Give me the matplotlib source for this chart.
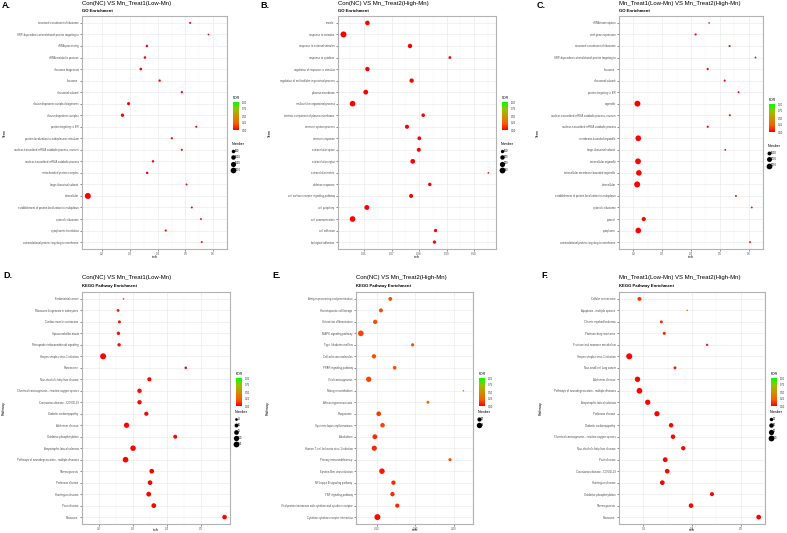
import matplotlib
matplotlib.use('Agg')
import matplotlib.pyplot as plt
import numpy as np
from matplotlib.colors import LinearSegmentedColormap, Normalize
from matplotlib.lines import Line2D
import matplotlib.cm as cm

plt.rcParams['font.family'] = ['Liberation Sans', 'DejaVu Sans']

# ---------------- data ----------------
A_terms = ["structural constituent of ribosome",
           "SRP-dependent cotranslational protein targeting to",
           "rRNA processing", "rRNA metabolic process", "ribosome biogenesis",
           "ribosome", "ribosomal subunit", "ribonucleoprotein complex biogenesis",
           "ribonucleoprotein complex", "protein targeting to ER",
           "protein localization to endoplasmic reticulum",
           "nuclear-transcribed mRNA catabolic process, nonsen",
           "nuclear-transcribed mRNA catabolic process",
           "mitochondrial protein complex", "large ribosomal subunit", "intracellular",
           "establishment of protein localization to endoplasm",
           "cytosolic ribosome", "cytoplasmic translation",
           "cotranslational protein targeting to membrane"]
A_rich = [0.517, 0.583, 0.361, 0.354, 0.339, 0.407, 0.487, 0.295, 0.273, 0.539,
          0.451, 0.487, 0.383, 0.362, 0.504, 0.148, 0.523, 0.556, 0.429, 0.559]
A_number = [80, 60, 150, 160, 180, 130, 110, 330, 420, 80,
            100, 90, 140, 150, 70, 2300, 80, 70, 90, 75]
A_fdr = [0.0] * 20

B_terms = ["vesicle", "response to stimulus", "response to external stimulus",
           "response to cytokine", "regulation of response to stimulus",
           "regulation of multicellular organismal process", "plasma membrane",
           "multicellular organismal process", "intrinsic component of plasma membrane",
           "immune system process", "immune response", "extracellular space",
           "extracellular region", "extracellular matrix", "defense response",
           "cell surface receptor signaling pathway", "cell periphery",
           "cell communication", "cell adhesion", "biological adhesion"]
B_rich = [0.0612, 0.0525, 0.0767, 0.0912, 0.0612, 0.0773, 0.0606, 0.0558, 0.0815,
          0.0756, 0.0801, 0.0799, 0.0777, 0.1052, 0.0839, 0.0771, 0.0610, 0.0558,
          0.0860, 0.0856]
B_number = [220, 430, 200, 70, 200, 190, 250, 370, 120, 170, 140, 160, 240, 40,
            110, 160, 260, 370, 100, 100]
B_fdr = [0.0] * 20

C_terms = ["rRNA transcription", "viral gene expression",
           "structural constituent of ribosome",
           "SRP-dependent cotranslational protein targeting to",
           "ribosome", "ribosomal subunit", "protein targeting to ER", "organelle",
           "nuclear-transcribed mRNA catabolic process, nonsen",
           "nuclear-transcribed mRNA catabolic process",
           "membrane-bounded organelle", "large ribosomal subunit",
           "intracellular organelle", "intracellular membrane-bounded organelle",
           "intracellular", "establishment of protein localization to endoplasm",
           "cytosolic ribosome", "cytosol", "cytoplasm",
           "cotranslational protein targeting to membrane"]
C_rich = [0.463, 0.416, 0.534, 0.624, 0.458, 0.517, 0.565, 0.214, 0.535, 0.458,
          0.217, 0.519, 0.216, 0.219, 0.213, 0.556, 0.611, 0.236, 0.217, 0.605]
C_number = [60, 110, 90, 70, 120, 100, 75, 3300, 85, 110,
            3000, 65, 3100, 2800, 3400, 78, 70, 1200, 2900, 72]
C_fdr = [0.0] * 20

D_terms = ["Endometrial cancer", "Ribosome biogenesis in eukaryotes",
           "Cardiac muscle contraction", "Spinocerebellar ataxia",
           "Retrograde endocannabinoid signaling", "Herpes simplex virus 1 infection",
           "Proteasome", "Non-alcoholic fatty liver disease",
           "Chemical carcinogenesis - reactive oxygen species",
           "Coronavirus disease - COVID-19", "Diabetic cardiomyopathy",
           "Alzheimer disease", "Oxidative phosphorylation",
           "Amyotrophic lateral sclerosis",
           "Pathways of neurodegeneration - multiple diseases", "Thermogenesis",
           "Parkinson disease", "Huntington disease", "Prion disease", "Ribosome"]
D_rich = [0.272, 0.256, 0.260, 0.257, 0.259, 0.212, 0.455, 0.348, 0.319, 0.319,
          0.339, 0.281, 0.424, 0.300, 0.278, 0.355, 0.350, 0.346, 0.361, 0.569]
D_number = [18, 28, 30, 38, 38, 135, 24, 58, 65, 65,
            58, 100, 52, 110, 118, 75, 75, 80, 80, 72]
D_fdr = [0.12, 0.08, 0.05, 0.03, 0.03, 0.0, 0.03, 0.01, 0.01, 0.01,
         0.01, 0.0, 0.01, 0.0, 0.0, 0.0, 0.0, 0.0, 0.0, 0.0]

E_terms = ["Antigen processing and presentation", "Hematopoietic cell lineage",
           "Osteoclast differentiation", "MAPK signaling pathway",
           "Type I diabetes mellitus", "Cell adhesion molecules",
           "PPAR signaling pathway", "Viral carcinogenesis", "Nitrogen metabolism",
           "African trypanosomiasis", "Phagosome", "Systemic lupus erythematosus",
           "Alcoholism", "Human T-cell leukemia virus 1 infection",
           "Primary immunodeficiency", "Epstein-Barr virus infection",
           "NF-kappa B signaling pathway", "TNF signaling pathway",
           "Viral protein interaction with cytokine and cytokine receptor",
           "Cytokine-cytokine receptor interaction"]
E_rich = [0.1172, 0.1050, 0.0975, 0.0788, 0.1463, 0.0959, 0.1229, 0.0891, 0.2125,
          0.1663, 0.1021, 0.1071, 0.0971, 0.0963, 0.1950, 0.1063, 0.1213, 0.1200,
          0.1263, 0.1004]
E_number = [16, 18, 22, 45, 10, 22, 14, 38, 3, 8,
            27, 25, 30, 35, 9, 42, 22, 22, 20, 52]
E_fdr = [0.2, 0.2, 0.2, 0.18, 0.22, 0.2, 0.2, 0.17, 0.5, 0.3,
         0.15, 0.17, 0.12, 0.1, 0.2, 0.05, 0.1, 0.1, 0.1, 0.03]

F_terms = ["Cellular senescence", "Apoptosis - multiple species",
           "Chronic myeloid leukemia", "Platinum drug resistance",
           "Fructose and mannose metabolism", "Herpes simplex virus 1 infection",
           "Non-small cell lung cancer", "Alzheimer disease",
           "Pathways of neurodegeneration - multiple diseases",
           "Amyotrophic lateral sclerosis", "Parkinson disease",
           "Diabetic cardiomyopathy",
           "Chemical carcinogenesis - reactive oxygen species",
           "Non-alcoholic fatty liver disease", "Prion disease",
           "Coronavirus disease - COVID-19", "Huntington disease",
           "Oxidative phosphorylation", "Thermogenesis", "Ribosome"]
F_rich = [0.292, 0.390, 0.337, 0.343, 0.431, 0.271, 0.365, 0.288, 0.292, 0.309,
          0.328, 0.357, 0.361, 0.382, 0.345, 0.349, 0.339, 0.441, 0.398, 0.537]
F_number = [45, 8, 20, 22, 12, 130, 18, 100, 115, 95,
            90, 60, 62, 55, 72, 65, 70, 48, 65, 70]
F_fdr = [0.15, 0.4, 0.1, 0.1, 0.1, 0.0, 0.05, 0.0, 0.0, 0.0,
         0.0, 0.01, 0.01, 0.01, 0.0, 0.0, 0.0, 0.01, 0.0, 0.0]

# ---------------- drawing ----------------
W, H = 787, 533
fig = plt.figure(figsize=(W / 100, H / 100), dpi=100)

def fx(px):
    return px / W

def fy(py):
    return 1 - py / H

cmap = LinearSegmentedColormap.from_list(
    'fdr', ['#FF0000', '#F26300', '#CC9100', '#94C400', '#00FF00'])
norm = Normalize(0, 1)

DMIN, DMAX = 1.6, 6.0  # pixel diameters


def diam(n, nmin, nmax):
    f = np.clip((np.asarray(n, float) - nmin) / (nmax - nmin), 0, 1)
    return (DMIN + (DMAX - DMIN) * np.sqrt(f)) * 0.72  # points


def panel(letter, title, subtitle, ylabel, terms, rich, number, fdr,
          box, xlim, xticks, xfmt, breaks, cb_y, leg_y, ylab_x,
          letter_xy, title_y, sub_y, rich_y):
    l, t, r, b = box
    ax = fig.add_axes([fx(l), fy(b), fx(r - l), (b - t) / H])
    n = len(terms)
    ypos = np.arange(n, 0, -1)
    nmin, nmax = min(number), max(number)
    d = diam(number, nmin, nmax)
    ax.scatter(rich, ypos, s=d ** 2, c=fdr, cmap=cmap, norm=norm,
               linewidths=0, zorder=3)
    ax.set_xlim(*xlim)
    ax.set_ylim(0.4, n + 0.6)
    ax.set_yticks(ypos)
    ax.set_yticklabels(terms, fontsize=2.0, color='#4D4D4D')
    ax.set_xticks(xticks)
    ax.set_xticklabels([xfmt.format(v) for v in xticks], fontsize=2.0,
                       color='#4D4D4D')
    mids = [(xticks[i] + xticks[i + 1]) / 2 for i in range(len(xticks) - 1)]
    step = xticks[1] - xticks[0]
    mids = [xticks[0] - step / 2] + mids + [xticks[-1] + step / 2]
    ax.set_xticks(mids, minor=True)
    ax.tick_params(axis='x', which='minor', length=0)
    ax.tick_params(which='major', length=1.5, width=0.4, color='#333333', pad=1)
    ax.grid(True, which='major', color='#EBEBEB', lw=0.5)
    ax.grid(True, which='minor', axis='x', color='#F3F3F3', lw=0.3)
    ax.set_axisbelow(True)
    for sp in ax.spines.values():
        sp.set_color('#B3B3B3')
        sp.set_linewidth(0.8)
    fig.text(fx((l + r) / 2), fy(rich_y), 'rich', fontsize=2.6,
             ha='center', va='center')
    fig.text(fx(ylab_x), fy((t + b) / 2), ylabel, rotation=90, fontsize=2.6,
             ha='center', va='center')
    # titles
    fig.text(fx(letter_xy[0]), fy(letter_xy[1]), letter, fontsize=6.5,
             fontweight='bold', ha='left', va='center')
    fig.text(fx(l), fy(title_y), title, fontsize=4.3, ha='left', va='center')
    fig.text(fx(l), fy(sub_y), subtitle, fontsize=3.1, ha='left', va='center',
             fontweight='semibold')
    # colorbar
    cx = r + 6
    cax = fig.add_axes([fx(cx), fy(cb_y + 28), fx(6), 28 / H])
    cb = fig.colorbar(cm.ScalarMappable(norm=norm, cmap=cmap), cax=cax,
                      ticks=[0, 0.25, 0.5, 0.75, 1.0])
    cb.outline.set_visible(False)
    cax.set_yticklabels(['0.00', '0.25', '0.50', '0.75', '1.00'], fontsize=1.9,
                        color='#333333')
    cax.tick_params(length=1, width=0.3, color='white', pad=1)
    fig.text(fx(cx), fy(cb_y - 4), 'FDR', fontsize=2.6, ha='left', va='center')
    # size legend
    handles = [Line2D([], [], marker='o', ls='', color='black',
                      markersize=float(diam(bv, nmin, nmax)), markeredgewidth=0)
               for bv in breaks]
    ax.legend(handles, [str(bv) for bv in breaks], title='Number',
              loc='upper left', bbox_to_anchor=(fx(cx - 3), fy(leg_y)),
              bbox_transform=fig.transFigure, frameon=False, fontsize=1.9,
              title_fontsize=2.6, handletextpad=0.2, labelspacing=0.9,
              borderpad=0, handlelength=1.2, alignment='left')
    return ax


panel('A.', 'Con(NC) VS Mn_Treat1(Low-Mn)', 'GO Enrichment', 'Term',
      A_terms, A_rich, A_number, A_fdr, (82, 16, 227, 249), (0.127, 0.607),
      [0.2, 0.3, 0.4, 0.5, 0.6], '{:.1f}', [500, 1000, 1500, 2000], 102, 141, 5,
      (2, 6), 4, 11.5, 257)
panel('B.', 'Con(NC) VS Mn_Treat2(High-Mn)', 'GO Enrichment', 'Term',
      B_terms, B_rich, B_number, B_fdr, (338, 16, 496, 249), (0.0505, 0.108),
      [0.06, 0.07, 0.08, 0.09, 0.10], '{:.2f}', [100, 200, 300, 400], 102, 141, 270,
      (260, 6), 4, 11.5, 257)
panel('C.', 'Mn_Treat1(Low-Mn) VS Mn_Treat2(High-Mn)', 'GO Enrichment', 'Term',
      C_terms, C_rich, C_number, C_fdr, (619, 16, 763, 249), (0.195, 0.638),
      [0.2, 0.3, 0.4, 0.5, 0.6], '{:.1f}', [1000, 2000, 3000], 104, 143, 538,
      (537, 6), 4, 11.5, 257)
panel('D.', 'Con(NC) VS Mn_Treat1(Low-Mn)', 'KEGG Pathway Enrichment', 'Pathway',
      D_terms, D_rich, D_number, D_fdr, (82, 292, 230, 524), (0.1955, 0.585),
      [0.2, 0.3, 0.4, 0.5], '{:.1f}', [25, 50, 75, 100, 125], 378, 409, 4,
      (3, 275), 277.5, 285.5, 530)
panel('E.', 'Con(NC) VS Mn_Treat2(High-Mn)', 'KEGG Pathway Enrichment', 'Pathway',
      E_terms, E_rich, E_number, E_fdr, (356, 292, 473, 524), (0.0725, 0.219),
      [0.10, 0.15, 0.20], '{:.2f}', [20, 40], 378, 409, 268,
      (272, 275), 277.5, 285.5, 530)
panel('F.', 'Mn_Treat1(Low-Mn) VS Mn_Treat2(High-Mn)', 'KEGG Pathway Enrichment',
      'Pathway', F_terms, F_rich, F_number, F_fdr, (619, 292, 765, 524),
      (0.258, 0.55), [0.3, 0.4, 0.5], '{:.1f}', [30, 60, 90, 120], 378, 409, 541,
      (541, 275), 277.5, 285.5, 530)

fig.savefig('out.png', dpi=100)
